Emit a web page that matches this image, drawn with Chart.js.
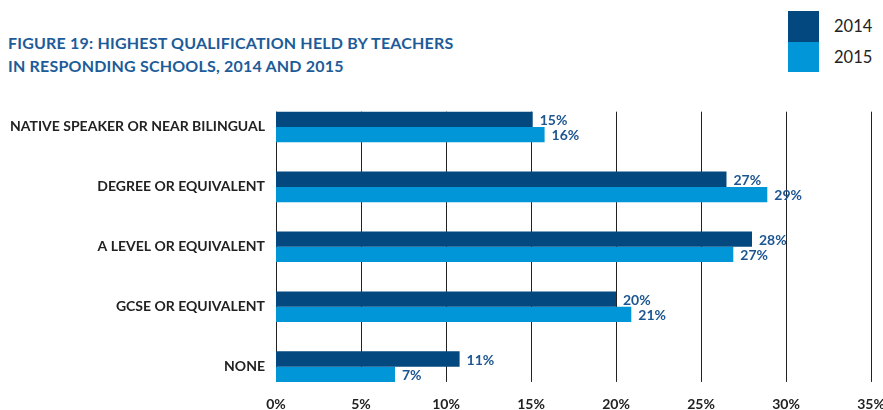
<!DOCTYPE html>
<html>
<head>
<meta charset="utf-8">
<script src="https://cdn.jsdelivr.net/npm/chart.js@4/dist/chart.umd.min.js"></script>
<style>
  html, body { margin: 0; padding: 0; background: #fff; }
  #wrap { position: relative; width: 883px; height: 410px; overflow: hidden; }
  #title {
    position: absolute; left: 8px; top: 31px;
    font-family: Lato, sans-serif; font-weight: bold; font-size: 16px;
    line-height: 23px; color: #1d5c98; letter-spacing: 0.2px;
  }
  #legend { position: absolute; left: 788px; top: 11px; }
  .item { display: flex; align-items: center; height: 30.5px; }
  .swatch { width: 31px; height: 30.5px; }
  .item span {
    margin-left: 15px; font-family: Lato, sans-serif; font-size: 16.5px; color: #222;
  }
  #myChart { position: absolute; left: 0; top: 0; }
</style>
</head>
<body>
<div id="wrap">
  <div id="title">FIGURE 19: HIGHEST QUALIFICATION HELD BY TEACHERS<br>IN RESPONDING SCHOOLS, 2014 AND 2015</div>
  <div id="legend"></div>
  <canvas id="myChart" width="889" height="416"></canvas>
</div>
<script>
'use strict';

const categories = ['NATIVE SPEAKER OR NEAR BILINGUAL', 'DEGREE OR EQUIVALENT', 'A LEVEL OR EQUIVALENT', 'GCSE OR EQUIVALENT', 'NONE'];
const seriesNames = ['2014', '2015'];
const values2014 = [15.1, 26.5, 28.0, 20.0, 10.8];
const values2015 = [15.8, 28.9, 26.9, 20.9, 7.0];
const xTicks = [0, 5, 10, 15, 20, 25, 30, 35];

const colors = ['#03487f', '#0096d8'];
const labelColor = '#1c5590';
const gridColor = '#222';

// legend in html
const legendElem = document.getElementById('legend');
for (let i = 0; i < seriesNames.length; i++) {
  const item = document.createElement('div');
  item.className = 'item';
  const sw = document.createElement('div');
  sw.className = 'swatch';
  sw.style.background = colors[i];
  const txt = document.createElement('span');
  txt.textContent = seriesNames[i];
  item.appendChild(sw);
  item.appendChild(txt);
  legendElem.appendChild(item);
}

// vertical grid lines only spanning the bars
const gridPlugin = {
  id: 'shortGrid',
  beforeDatasetsDraw(chart) {
    const ctx = chart.ctx;
    const x = chart.scales.x;
    const first = chart.getDatasetMeta(0).data[0];
    const lastMeta = chart.getDatasetMeta(chart.data.datasets.length - 1);
    const last = lastMeta.data[lastMeta.data.length - 1];
    const top = first.y - first.height / 2;
    const bottom = last.y + last.height / 2;
    ctx.save();
    ctx.strokeStyle = gridColor;
    ctx.lineWidth = 1;
    for (const t of xTicks) {
      const px = Math.round(x.getPixelForValue(t)) + 0.5;
      ctx.beginPath();
      ctx.moveTo(px, top);
      ctx.lineTo(px, bottom);
      ctx.stroke();
    }
    ctx.restore();
  }
};

// percentage labels at bar ends
const valueLabelPlugin = {
  id: 'valueLabels',
  afterDatasetsDraw(chart) {
    const ctx = chart.ctx;
    ctx.save();
    ctx.font = 'bold 14px Lato, sans-serif';
    ctx.fillStyle = labelColor;
    ctx.textBaseline = 'middle';
    ctx.textAlign = 'left';
    chart.data.datasets.forEach((ds, di) => {
      const meta = chart.getDatasetMeta(di);
      meta.data.forEach((bar, i) => {
        ctx.fillText(Math.round(ds.data[i]) + '%', bar.x + 7, bar.y + 1);
      });
    });
    ctx.restore();
  }
};

const config = {
  type: 'bar',
  data: {
    labels: categories,
    datasets: [
      { label: seriesNames[0], data: values2014, backgroundColor: colors[0], barPercentage: 1, categoryPercentage: 0.51 },
      { label: seriesNames[1], data: values2015, backgroundColor: colors[1], barPercentage: 1, categoryPercentage: 0.51 },
    ],
  },
  options: {
    indexAxis: 'y',
    responsive: false,
    animation: false,
    layout: { padding: { top: 97, left: 0, right: 18, bottom: 0 } },
    plugins: { legend: { display: false }, tooltip: { enabled: false } },
    scales: {
      x: {
        min: 0,
        max: 35,
        afterBuildTicks(scale) {
          scale.ticks = xTicks.map(v => ({ value: v }));
        },
        afterFit(scale) { scale.height = 13; },
        grid: { display: false, drawTicks: false },
        border: { display: false },
        ticks: {
          padding: 1,
          color: '#222',
          font: { family: 'Lato, sans-serif', weight: 'bold', size: 14, lineHeight: 1 },
          callback: v => v + '%',
        },
      },
      y: {
        afterFit(scale) { scale.width = 276; },
        grid: { display: false, drawTicks: false },
        border: { display: false },
        ticks: {
          padding: 11,
          color: '#222',
          font: { family: 'Lato, sans-serif', weight: 'bold', size: 14 },
        },
      },
    },
  },
  plugins: [gridPlugin, valueLabelPlugin],
};

new Chart(document.getElementById('myChart'), config);
</script>
</body>
</html>
